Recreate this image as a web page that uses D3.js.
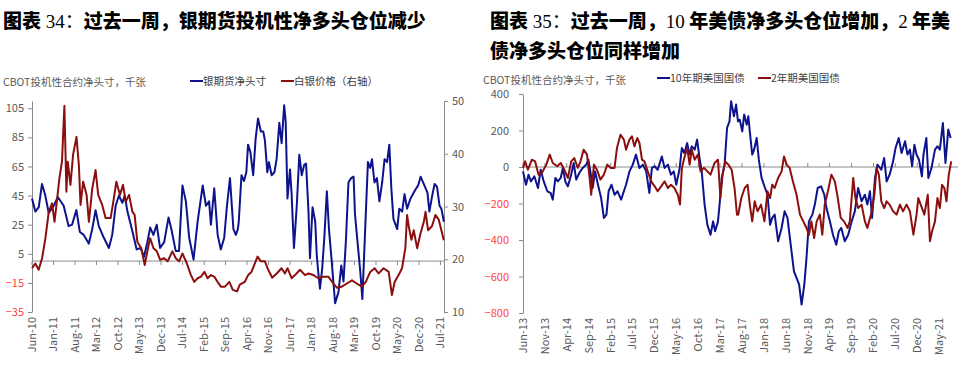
<!DOCTYPE html>
<html><head><meta charset="utf-8">
<script src="https://cdn.jsdelivr.net/npm/d3@7"></script>
<style>
html,body{margin:0;padding:0;background:#fff;}
svg{display:block;}
text{font-family:"Noto Sans CJK SC","Liberation Sans",sans-serif;}
</style></head>
<body>
<svg id="c" width="960" height="367"></svg>
<script>
// ---------- Chart 34 data ----------
const silverNetDates = ["2010-06-01","2010-07-04","2010-08-07","2010-09-08","2010-10-11","2010-11-14","2011-01-03","2011-02-12","2011-04-11","2011-05-30","2011-07-03","2011-08-15","2011-09-18","2011-10-27","2011-12-16","2012-01-19","2012-02-21","2012-03-24","2012-05-13","2012-07-02","2012-08-04","2012-09-07","2012-10-10","2012-11-12","2012-12-06","2013-01-02","2013-02-04","2013-03-07","2013-04-03","2013-05-12","2013-06-15","2013-07-18","2013-08-15","2013-09-16","2013-10-19","2013-11-21","2014-01-01","2014-02-13","2014-03-13","2014-04-25","2014-05-28","2014-07-01","2014-08-04","2014-09-06","2014-10-19","2014-11-28","2015-01-18","2015-02-19","2015-03-22","2015-04-09","2015-05-12","2015-06-15","2015-07-16","2015-08-19","2015-09-15","2015-10-15","2015-11-18","2015-12-12","2016-01-01","2016-01-10","2016-02-06","2016-03-02","2016-03-25","2016-04-11","2016-05-04","2016-06-01","2016-06-25","2016-07-19","2016-08-16","2016-09-09","2016-09-25","2016-10-19","2016-11-04","2016-12-01","2016-12-28","2017-01-19","2017-02-15","2017-03-10","2017-04-04","2017-04-19","2017-05-07","2017-06-01","2017-06-16","2017-07-10","2017-08-07","2017-09-01","2017-09-25","2017-10-19","2017-11-07","2017-12-01","2017-12-16","2018-01-10","2018-02-06","2018-02-21","2018-03-07","2018-03-25","2018-04-16","2018-05-07","2018-06-01","2018-06-22","2018-07-19","2018-08-22","2018-09-25","2018-10-22","2018-11-13","2018-12-07","2019-01-01","2019-01-28","2019-02-21","2019-03-07","2019-04-04","2019-04-28","2019-05-19","2019-06-16","2019-07-13","2019-08-04","2019-08-22","2019-09-16","2019-10-10","2019-11-04","2019-12-01","2019-12-25","2020-01-19","2020-02-10","2020-03-01","2020-03-22","2020-04-28","2020-05-19","2020-06-16","2020-07-10","2020-08-04","2020-09-07","2020-10-25","2020-11-22","2020-12-16","2021-01-16","2021-02-22","2021-03-13","2021-04-10","2021-05-04","2021-05-28","2021-06-22","2021-07-10","2021-08-04"];
const silverNet = [43,34,37,53,45,33,38,44,38,24,25,35,20,18,12,22,35,24,16,9,18,38,45,40,45,34,25,16,8,9,3,13,23,18,25,9,13,30,22,7,7,52,41,16,1,27,52,38,41,25,50,18,8,16,38,57,22,18,22,27,59,55,61,80,75,59,84,98,89,89,83,61,68,59,61,70,95,81,107,96,43,63,47,9,38,73,59,66,67,34,2,37,27,4,-7,-19,-5,16,48,22,0,-29,-21,-3,-14,14,54,57,58,32,11,-7,-26,22,68,64,70,54,57,41,54,70,68,80,50,29,22,36,34,46,36,43,49,52,58,53,47,34,45,53,51,38,36,27];

const silverPriceDates = ["2010-06-01","2010-07-04","2010-08-06","2010-09-09","2010-10-12","2010-11-14","2010-12-17","2011-01-10","2011-02-06","2011-02-27","2011-03-25","2011-04-18","2011-05-08","2011-05-21","2011-06-17","2011-07-13","2011-08-16","2011-09-08","2011-09-25","2011-10-21","2011-11-24","2011-12-17","2012-01-19","2012-02-21","2012-03-18","2012-04-27","2012-05-30","2012-07-19","2012-08-15","2012-09-14","2012-10-20","2012-11-19","2012-12-16","2013-01-18","2013-02-20","2013-03-14","2013-04-10","2013-05-19","2013-06-22","2013-07-11","2013-08-14","2013-09-17","2013-10-20","2013-11-22","2014-01-02","2014-02-04","2014-03-23","2014-04-26","2014-05-29","2014-07-01","2014-08-14","2014-09-23","2014-10-26","2014-11-28","2015-01-01","2015-02-04","2015-03-07","2015-04-09","2015-05-12","2015-06-15","2015-07-17","2015-08-26","2015-10-09","2015-11-12","2015-12-24","2016-01-20","2016-03-09","2016-04-12","2016-05-15","2016-06-11","2016-07-14","2016-08-16","2016-09-25","2016-10-28","2016-12-07","2017-01-20","2017-03-09","2017-04-11","2017-05-07","2017-06-17","2017-07-20","2017-09-08","2017-10-28","2017-11-30","2018-01-19","2018-03-08","2018-04-27","2018-06-16","2018-08-05","2018-09-08","2018-10-27","2018-12-16","2019-02-05","2019-03-24","2019-05-13","2019-06-22","2019-08-05","2019-09-17","2019-10-26","2019-12-15","2020-02-04","2020-03-07","2020-04-03","2020-05-12","2020-06-15","2020-07-18","2020-08-04","2020-08-20","2020-09-16","2020-10-09","2020-11-12","2020-12-14","2021-01-17","2021-02-03","2021-02-28","2021-04-09","2021-05-12","2021-06-14","2021-07-10","2021-08-03"];
const silverPrice = [18.3,19.2,18.0,20.2,24.0,29.0,30.6,27.1,31.6,35.3,38.5,49.1,32.8,38.5,34.1,39.8,43.2,38.0,30.3,34.7,32.2,27.1,33.4,36.9,32.2,30.3,27.8,27.8,30.9,34.7,32.2,34.1,30.9,32.2,29.0,28.4,23.3,22.1,18.9,20.8,24.0,22.1,21.5,19.9,20.2,19.6,21.5,20.2,19.6,21.1,19.2,17.0,15.7,16.4,16.7,17.6,16.4,17.0,16.7,15.7,14.8,14.8,15.7,14.2,13.9,15.2,15.7,17.0,17.6,18.9,20.5,19.6,19.6,18.0,16.5,17.3,18.3,17.3,18.3,16.4,17.0,18.0,17.0,17.3,17.0,16.4,16.7,16.7,15.4,14.6,14.8,15.4,16.0,15.4,14.8,15.7,17.6,18.3,17.3,18.3,17.6,13.2,15.7,17.0,18.3,22.1,28.4,26.3,23.7,25.5,22.1,24.8,27.1,29.0,25.5,26.3,28.4,27.5,25.5,23.6];

const leftTicks34 = [-35,-15,5,25,45,65,85,105];
const rightTicks34 = [10,20,30,40,50];

// ---------- Chart 35 data ----------
const t10Dates = ["2013-06-01","2013-06-22","2013-07-09","2013-07-26","2013-08-19","2013-09-13","2013-10-02","2013-10-23","2013-11-17","2013-12-10","2013-12-25","2014-01-12","2014-01-29","2014-02-18","2014-03-05","2014-03-22","2014-04-09","2014-05-02","2014-05-19","2014-06-06","2014-06-27","2014-07-21","2014-08-14","2014-08-29","2014-09-14","2014-09-28","2014-10-15","2014-11-04","2014-11-26","2014-12-15","2015-01-02","2015-01-17","2015-02-06","2015-02-27","2015-03-20","2015-04-14","2015-05-03","2015-05-18","2015-06-11","2015-07-04","2015-07-26","2015-08-19","2015-09-12","2015-10-05","2015-10-27","2015-11-14","2015-12-03","2015-12-24","2016-01-22","2016-02-10","2016-03-04","2016-03-25","2016-04-14","2016-05-01","2016-05-23","2016-06-09","2016-06-26","2016-07-16","2016-08-02","2016-08-17","2016-09-06","2016-09-23","2016-10-10","2016-10-25","2016-11-14","2016-12-03","2016-12-25","2017-01-12","2017-01-26","2017-02-15","2017-02-26","2017-03-13","2017-04-02","2017-04-19","2017-05-06","2017-05-17","2017-06-06","2017-06-21","2017-07-04","2017-07-16","2017-08-03","2017-08-16","2017-09-03","2017-09-14","2017-09-24","2017-10-11","2017-10-24","2017-11-11","2017-11-26","2017-12-15","2018-01-08","2018-01-25","2018-02-12","2018-02-27","2018-03-16","2018-04-09","2018-05-03","2018-05-24","2018-06-13","2018-07-11","2018-07-28","2018-08-15","2018-09-02","2018-09-19","2018-10-08","2018-10-23","2018-11-09","2018-12-03","2018-12-20","2019-01-09","2019-02-02","2019-02-24","2019-03-11","2019-04-04","2019-04-25","2019-05-18","2019-06-05","2019-06-22","2019-07-16","2019-08-09","2019-09-02","2019-09-24","2019-10-17","2019-11-10","2019-12-03","2019-12-20","2020-01-07","2020-01-22","2020-02-11","2020-02-28","2020-03-26","2020-04-15","2020-05-02","2020-05-23","2020-06-16","2020-07-03","2020-07-25","2020-08-14","2020-09-07","2020-09-24","2020-10-11","2020-10-26","2020-11-11","2020-11-26","2020-12-13","2021-01-02","2021-01-13","2021-02-02","2021-02-16","2021-03-10","2021-04-03","2021-04-20","2021-05-07","2021-05-28","2021-06-15","2021-07-04","2021-07-21"];
const t10Net = [-24,-97,-42,-79,-51,-115,-15,-79,-133,-142,-179,-60,-79,-60,-5,-79,-106,-42,22,-69,-33,-5,13,40,-33,-115,-24,-97,-170,-279,-261,-133,-97,-152,-133,-179,-133,-97,-24,13,68,-5,13,-24,-142,-5,4,-15,58,-5,13,-42,-24,-97,-15,104,77,131,68,113,95,150,49,-24,-206,-316,-371,-298,-352,-298,-206,-60,13,214,250,360,278,342,250,259,195,287,232,278,195,68,95,159,40,-60,-115,-152,-316,-279,-261,-407,-334,-243,-279,-462,-572,-608,-645,-754,-645,-499,-298,-261,-206,-115,-106,-152,-225,-298,-371,-426,-352,-334,-407,-371,-298,-243,-115,-188,-152,-206,-133,-279,-60,13,-15,49,-79,-42,31,104,159,77,141,68,95,4,122,68,40,-51,68,159,-60,-5,95,113,95,241,22,205,159];

const t2Dates = ["2013-06-01","2013-06-16","2013-07-05","2013-08-02","2013-08-24","2013-09-17","2013-10-10","2013-11-10","2013-12-04","2013-12-25","2014-01-25","2014-02-18","2014-03-15","2014-04-09","2014-05-02","2014-05-23","2014-06-17","2014-07-06","2014-07-27","2014-08-20","2014-09-07","2014-09-18","2014-10-07","2014-10-28","2014-11-21","2014-12-15","2015-01-08","2015-02-01","2015-02-27","2015-03-16","2015-04-09","2015-05-03","2015-05-18","2015-06-11","2015-06-28","2015-07-15","2015-08-04","2015-08-19","2015-09-06","2015-09-23","2015-10-16","2015-11-09","2015-12-03","2015-12-24","2016-01-17","2016-02-10","2016-03-04","2016-03-25","2016-04-18","2016-05-12","2016-05-27","2016-06-09","2016-06-26","2016-07-16","2016-08-02","2016-08-17","2016-09-06","2016-09-28","2016-10-17","2016-11-10","2016-12-03","2016-12-25","2017-01-22","2017-02-15","2017-03-04","2017-03-19","2017-04-06","2017-04-28","2017-05-21","2017-06-10","2017-06-27","2017-07-06","2017-07-27","2017-08-20","2017-09-09","2017-09-24","2017-10-11","2017-10-28","2017-11-17","2017-12-11","2018-01-04","2018-01-25","2018-02-12","2018-02-27","2018-03-16","2018-04-09","2018-05-03","2018-05-20","2018-06-07","2018-06-28","2018-07-21","2018-08-15","2018-09-08","2018-10-01","2018-10-23","2018-11-09","2018-11-26","2018-12-15","2019-01-02","2019-01-24","2019-02-10","2019-02-27","2019-03-21","2019-04-14","2019-05-08","2019-05-25","2019-06-18","2019-07-11","2019-08-05","2019-08-20","2019-09-13","2019-09-28","2019-10-17","2019-11-10","2019-12-03","2019-12-20","2020-01-14","2020-02-07","2020-02-22","2020-03-09","2020-03-26","2020-04-15","2020-05-02","2020-05-23","2020-06-16","2020-07-10","2020-08-03","2020-08-24","2020-09-18","2020-10-11","2020-11-04","2020-11-26","2020-12-08","2020-12-25","2021-01-19","2021-02-12","2021-02-27","2021-03-14","2021-04-03","2021-04-20","2021-05-07","2021-05-22","2021-06-07","2021-06-22","2021-07-08","2021-07-25"];
const t2Net = [-5,31,-15,40,31,-42,-33,13,68,22,4,22,-15,-60,31,49,-5,31,95,68,-60,-152,13,-15,-69,-42,13,-5,-5,104,177,150,95,150,168,113,159,132,40,31,-24,-79,-106,-133,-106,-79,-115,-97,-115,-152,-206,-5,49,104,13,95,40,68,-24,-5,-24,-42,22,40,-170,-42,31,13,-15,-115,-261,-261,-170,-115,-97,-206,-298,-188,-243,-206,-298,-133,-170,-97,-115,-60,-24,58,13,-5,-79,-152,-261,-298,-334,-371,-298,-389,-298,-261,-371,-206,-133,-42,-79,-152,-279,-298,-334,-298,-60,-170,-225,-206,-298,-334,-261,-152,-5,-42,-188,-225,-188,-206,-243,-261,-206,-243,-206,-243,-371,-261,-170,-206,-261,-152,-407,-352,-298,-170,-225,-97,-115,-188,-42,31];

const leftTicks35 = [-800,-600,-400,-200,0,200,400];

// ---------- drawing ----------
const svg = d3.select("#c");
const BLUE = "#0d138c", RED = "#8c0f0f";
const AX = "#8a8a8a", LBL = "#595959", NEG = "#ff3f3f";
const parse = d3.timeParse("%Y-%m-%d");
const fmt = d3.timeFormat("%b-%y");

function title(x, y, parts) {
  const t = svg.append("text").attr("x", x).attr("y", y).attr("font-size", 19).attr("fill", "#000");
  parts.forEach(p => {
    t.append("tspan").text(p[0])
      .attr("font-weight", p[1] ? 900 : 400)
      .attr("font-family", p[1] ? "'Noto Sans CJK SC'" : "'Liberation Serif', 'Noto Sans CJK SC', serif");
  });
}
title(3, 28, [["图表",1],[" 34：",0],["过去一周，银期货投机性净多头仓位减少",1]]);
title(490, 28, [["图表",1],[" 35：",0],["过去一周，",1],["10",0],[" 年美债净多头仓位增加，",1],["2",0],[" 年美",1]]);
title(490, 58, [["债净多头仓位同样增加",1]]);

function sub(x, y, s) {
  svg.append("text").attr("x", x).attr("y", y).attr("dy", "0.35em").attr("font-size", 10.5).attr("fill", LBL).text(s);
}
function legend(x, y, color, s) {
  svg.append("line").attr("x1", x).attr("x2", x + 13).attr("y1", y).attr("y2", y).attr("stroke", color).attr("stroke-width", 2);
  svg.append("text").attr("x", x + 13).attr("y", y).attr("dy", "0.35em").attr("font-size", 10.5).attr("fill", "#404040").text(s);
}
sub(3, 82, "CBOT投机性合约净头寸，千张");
legend(190, 81, BLUE, "银期货净头寸");
legend(281, 81, RED, "白银价格（右轴）");
sub(483, 80, "CBOT投机性合约净头寸，千张");
legend(657, 78, BLUE, "10年期美国国债");
legend(758, 78, RED, "2年期美国国债");

function styleAxis(g, negRed) {
  g.select(".domain").attr("stroke", AX);
  g.selectAll(".tick line").attr("stroke", AX);
  g.selectAll(".tick text").attr("font-size", 11).attr("font-family", "'Liberation Sans', sans-serif")
    .attr("fill", d => (negRed && d < 0) ? NEG : LBL);
}

function xAxis(x, y0, ticks, dir, labelY) {
  const g = svg.append("g");
  g.append("line").attr("x1", x.range()[0]).attr("x2", x.range()[1]).attr("y1", y0).attr("y2", y0).attr("stroke", AX);
  ticks.forEach(d => {
    g.append("line").attr("x1", x(d)).attr("x2", x(d)).attr("y1", y0).attr("y2", y0 + dir * 4).attr("stroke", AX);
    g.append("text").attr("transform", `translate(${x(d)},${labelY}) rotate(-90)`)
      .attr("text-anchor", "end").attr("dy", "0.35em").attr("font-size", 11)
      .attr("font-family", "'Liberation Sans', sans-serif").attr("fill", LBL).text(fmt(d));
  });
}

function drawLine(x, y, dates, vals, color) {
  const data = dates.map((d, i) => [parse(d), vals[i]]);
  svg.append("path").datum(data)
    .attr("d", d3.line().x(d => x(d[0])).y(d => y(d[1])))
    .attr("fill", "none").attr("stroke", color).attr("stroke-width", 2).attr("stroke-linejoin", "round");
}

// Chart 34
const x34 = d3.scaleTime().domain([new Date(2010, 5, 1), new Date(2021, 7, 5)]).range([32, 444]);
const yL34 = d3.scaleLinear().domain([-35, 110]).range([312, 101]);
const yR34 = d3.scaleLinear().domain([10, 50]).range([312, 101]);

const gL = svg.append("g").attr("transform", "translate(32,0)")
  .call(d3.axisLeft(yL34).tickValues(leftTicks34).tickSize(4).tickSizeOuter(0).tickPadding(4));
styleAxis(gL, true);
const gR = svg.append("g").attr("transform", "translate(444,0)")
  .call(d3.axisRight(yR34).tickValues(rightTicks34).tickSize(4).tickSizeOuter(0).tickPadding(4));
styleAxis(gR, false);
xAxis(x34, yL34(0), d3.range(20).map(i => new Date(2010, 5 + 7 * i, 1)), 1, 317);
drawLine(x34, yL34, silverNetDates, silverNet, BLUE);
drawLine(x34, yR34, silverPriceDates, silverPrice, RED);

// Chart 35
const x35 = d3.scaleTime().domain([new Date(2013, 5, 1), new Date(2021, 8, 10)]).range([523, 958]);
const y35 = d3.scaleLinear().domain([-800, 400]).range([313, 94]);
const g35 = svg.append("g").attr("transform", "translate(523,0)")
  .call(d3.axisLeft(y35).tickValues(leftTicks35).tickSize(4).tickSizeOuter(0).tickPadding(10));
styleAxis(g35, true);
xAxis(x35, y35(0), d3.range(20).map(i => new Date(2013, 5 + 5 * i, 1)), -1, 318);
drawLine(x35, y35, t10Dates, t10Net, BLUE);
drawLine(x35, y35, t2Dates, t2Net, RED);
</script>
</body></html>
